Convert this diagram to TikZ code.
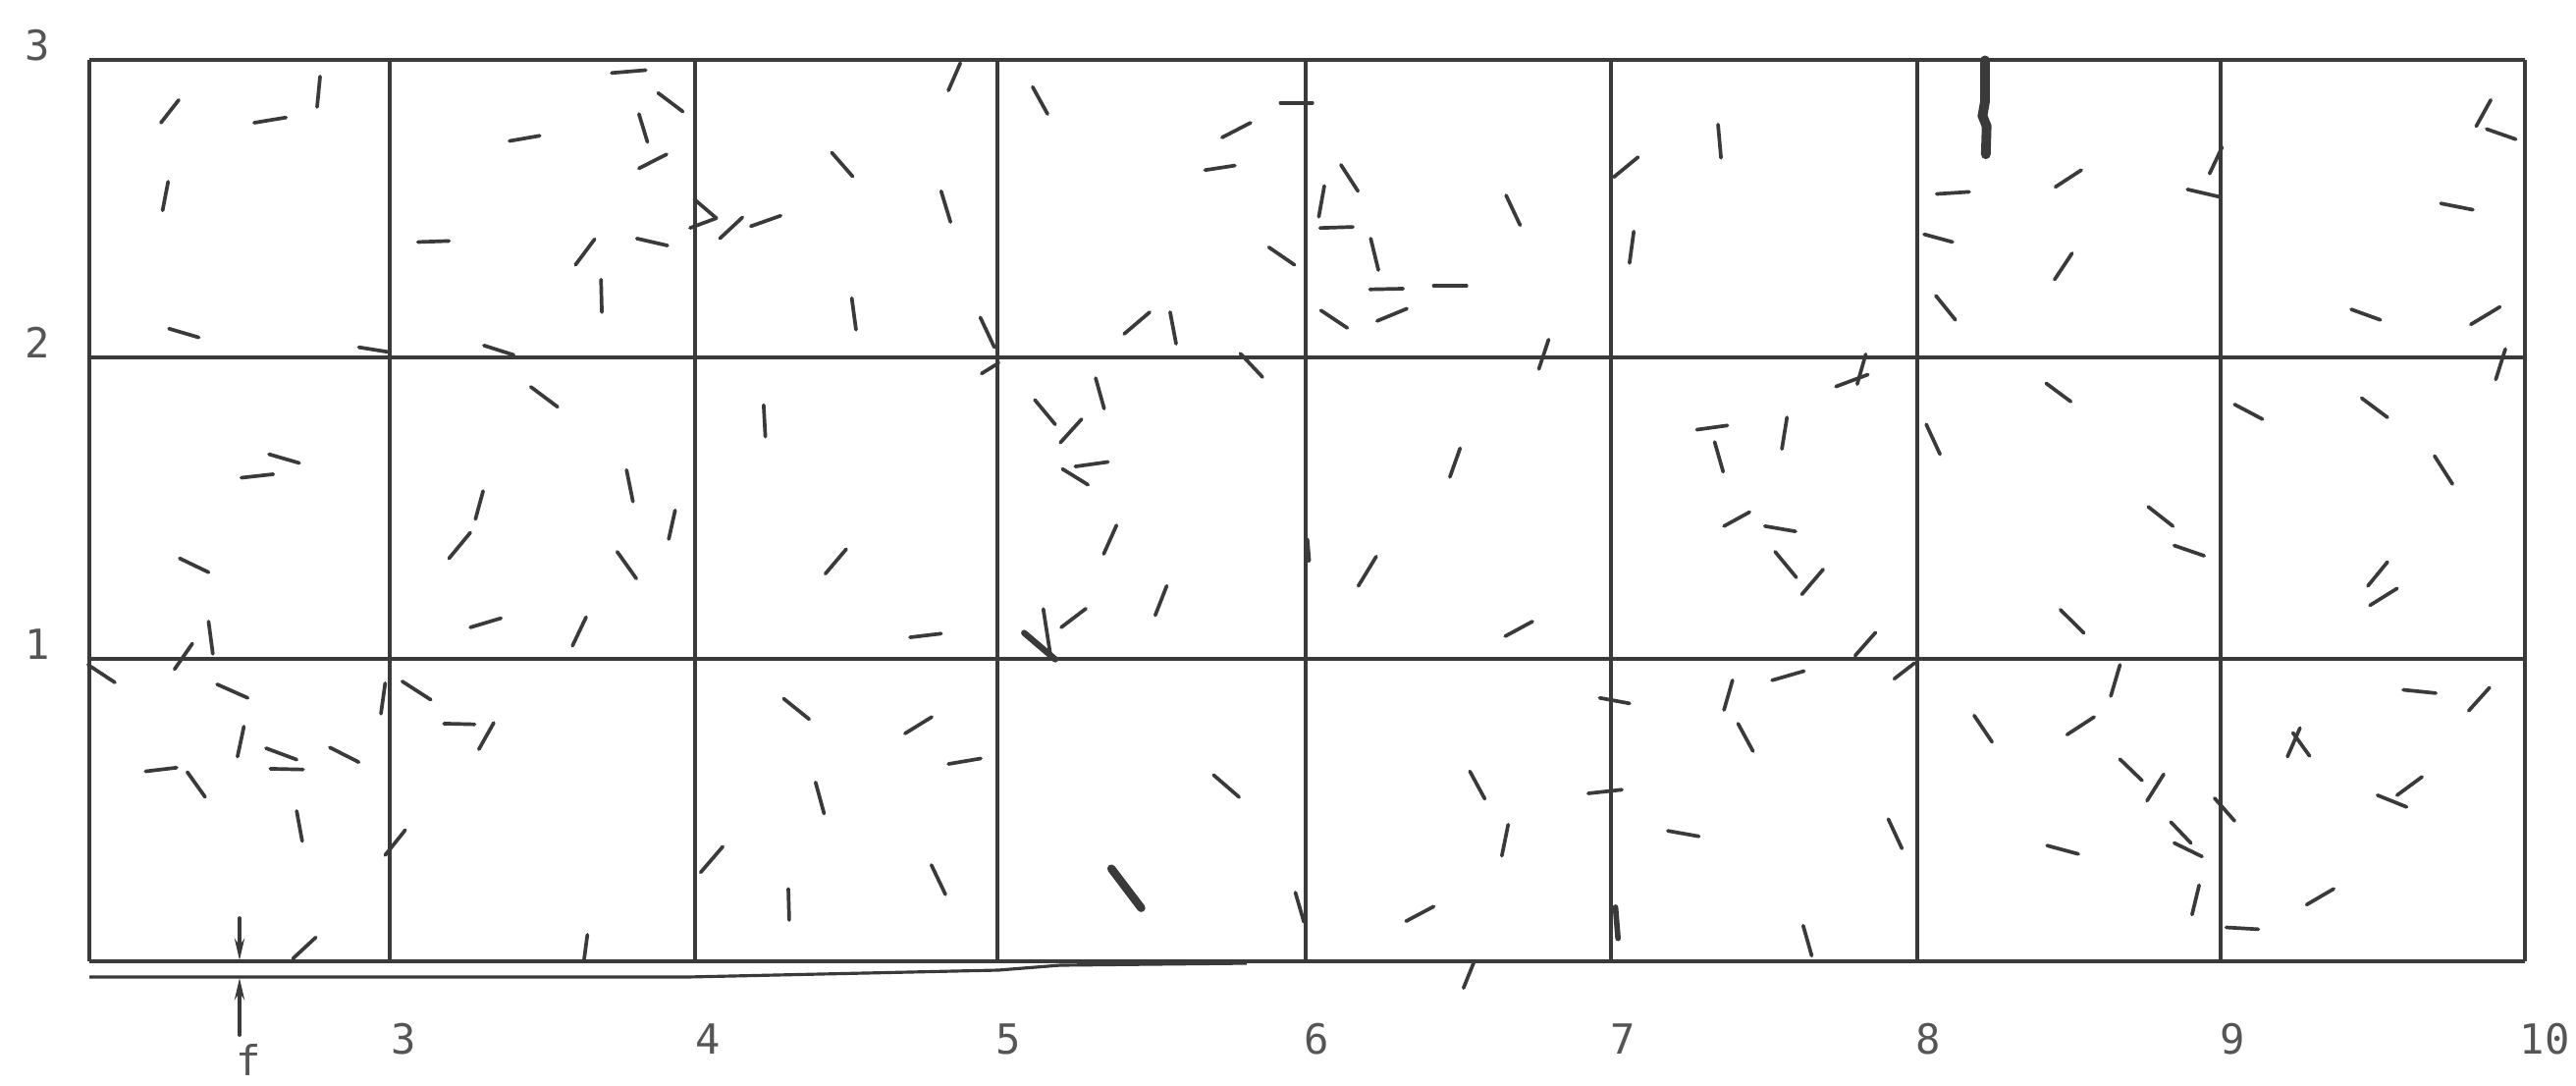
\documentclass[tikz,border=0pt]{standalone}
\usepackage{fontspec}
\newfontfamily\labfont{DejaVu Sans Mono}
\usetikzlibrary{arrows.meta}
\definecolor{ink}{HTML}{3A3A3A}
\definecolor{labc}{HTML}{555555}
\tikzset{
  seg/.style={draw=ink, line width=1.05pt, line cap=round},
  heavy/.style={draw=ink, line width=2.2pt, line cap=round},
  gridln/.style={draw=ink, line width=0.9pt},
  lab/.style={text=labc, font=\labfont\fontsize{12}{14}\selectfont, inner sep=0pt},
  zoomA/.style={x=0.0043365cm, y=-0.0035714cm},
  zoomB/.style={x=0.0042355cm, y=-0.0035714cm},
  zoomC/.style={x=0.0043365cm, y=-0.0037369cm},
  zoomD/.style={x=0.0042355cm, y=-0.0037369cm},
}
\begin{document}
\begin{tikzpicture}[x=0.01cm, y=-0.01cm]
\useasboundingbox (0,0) rectangle (2624,1106);
\fill[white] (0,0) rectangle (2624,1106);
% grid
\foreach \gx in {91,397,708,1016,1330,1641,1953,2262,2572}
  \draw[gridln] (\gx,61) -- (\gx,979);
\foreach \gy in {61,364,671,979}
  \draw[gridln] (91,\gy) -- (2572,\gy);
% lower base line
\draw[gridln] (91,995) -- (700,995) -- (1017,988) -- (1080,983) -- (1270,981);
% f arrows
\coordinate (fa) at (244,935);
\coordinate (fb) at (244,978);
\coordinate (fc) at (244,1054);
\coordinate (fd) at (244,996);
\draw[seg, -{Stealth[length=0.22cm,width=0.1cm]}] (fa) -- (fb);
\draw[seg, -{Stealth[length=0.22cm,width=0.1cm]}] (fc) -- (fd);
% labels
\node[lab, anchor=base west] (l3) at (25,61) {3};
\node[lab, anchor=base west] (l2) at (25,364) {2};
\node[lab, anchor=base west] (l1) at (25,671) {1};
\node[lab, anchor=base] (bf) at (253,1095) {f};
\node[lab, anchor=base west] (b3) at (398,1073) {3};
\node[lab, anchor=base west] (b4) at (708,1073) {4};
\node[lab, anchor=base west] (b5) at (1014,1073) {5};
\node[lab, anchor=base west] (b6) at (1328,1073) {6};
\node[lab, anchor=base west] (b7) at (1640,1073) {7};
\node[lab, anchor=base west] (b8) at (1951,1073) {8};
\node[lab, anchor=base west] (b9) at (2261,1073) {9};
\node[lab, anchor=base west] (b10) at (2566,1073) {10};
% ---- region 1
\begin{scope}[shift={(0,0)}, zoomA]
\foreach \a/\b/\c/\d in {378/350/420/285, 597/350/672/335, 752/218/745/305, 382/600/395/518,
 397/937/467/962, 843/990/910/1003, 632/1295/703/1320, 567/1362/642/1352,
 1437/208/1517/200, 1197/402/1268/387, 982/690/1055/687, 1352/755/1397/682,
 1412/797/1414/890, 1137/985/1207/1012, 1247/1103/1310/1160, 1472/1340/1487/1430,
 1117/1480/1135/1400}
  \draw[seg] (\a,\b) -- (\c,\d);
\end{scope}
% ---- region 2
\begin{scope}[shift={(640,0)}, zoomA]
\foreach \a/\b/\c/\d in {70/265/128/318, 25/325/45/405, 25/480/90/440, 20/680/92/700,
 155/568/207/622, 145/650/207/622, 215/680/268/620, 288/645/358/615, 478/435/527/503,
 752/258/780/180, 735/545/757/633, 525/850/535/940, 827/905/860/990, 830/1065/870/1035,
 950/248/985/325, 1395/392/1462/350, 1355/485/1425/472, 1505/705/1565/755,
 1165/952/1225/890, 1273/890/1287/980, 1438/1008/1490/1075, 318/1155/322/1245,
 955/1140/1003/1210, 1098/1078/1118/1165, 1015/1262/1065/1195, 1050/1330/1127/1317,
 1020/1337/1080/1382, 95/1537/110/1455}
  \draw[seg] (\a,\b) -- (\c,\d);
\end{scope}
% ---- region 3
\begin{scope}[shift={(1300,0)}, zoomA]
\foreach \a/\b/\c/\d in {10/293/85/293, 152/470/192/545, 100/618/113/530, 103/650/180/647,
 222/680/240/770, 220/825/298/823, 370/815/447/815, 105/885/167/935, 237/915/307/880,
 540/557/573/642, 617/1052/640/968, 793/505/850/448, 1038/355/1045/450, 830/750/840/660,
 1365/1095/1385/1010, 1315/1102/1390/1068, 988/1225/1060/1213, 1188/1280/1200/1190,
 1030/1260/1050/1345, 1052/1500/1112/1460, 1148/1500/1220/1515, 408/1360/432/1278}
  \draw[seg] (\a,\b) -- (\c,\d);
\end{scope}
% ---- region 4
\begin{scope}[shift={(1960,0)}, zoomB]
\draw[heavy, line width=2.8pt] (146,172) -- (146,290) -- (140,330) -- (150,360) -- (148,440);
\foreach \a/\b/\c/\d in {30/553/108/547, 0/668/68/690, 315/533/377/485, 313/797/355/722,
 28/843/75/912, 685/495/715/420, 632/540/712/562, 1325/360/1360/285, 1350/368/1420/397,
 1240/580/1317/598, 1025/882/1095/912, 1312/925/1382/875, 1372/1082/1395/995,
 293/1093/352/1145, 5/1210/38/1295, 745/1153/812/1195, 1050/1135/1112/1190,
 1225/1300/1268/1380, 538/1445/597/1500}
  \draw[seg] (\a,\b) -- (\c,\d);
\end{scope}
% ---- region 5
\begin{scope}[shift={(0,520)}, zoomC]
\foreach \a/\b/\c/\d in {1055/130/1105/60, 422/130/490/168, 1450/112/1495/185,
 1105/318/1177/293, 1345/368/1377/290, 490/302/500/390, 410/432/452/362, 207/420/270/468,
 510/473/582/510, 895/553/905/470, 945/465/1012/515, 1043/580/1115/582, 1125/650/1160/578,
 558/670/573/588, 625/647/697/678, 635/703/712/705, 775/645/843/685, 342/710/415/700,
 440/712/482/780, 697/818/710/900, 905/938/952/870, 688/1220/742/1162, 1372/1225/1380/1155}
  \draw[seg] (\a,\b) -- (\c,\d);
\end{scope}
% ---- region 6
\begin{scope}[shift={(640,520)}, zoomC]
\foreach \a/\b/\c/\d in {463/172/512/105, 662/345/735/335, 1117/118/1147/40, 1238/285/1265/205,
 975/268/992/395, 1017/318/1075/267, 365/512/425/568, 650/607/713/562, 752/690/828/675,
 440/740/460/825, 170/985/222/915, 376/1030/378/1115, 712/965/745/1045, 1375/720/1435/780}
  \draw[seg] (\a,\b) -- (\c,\d);
\draw[heavy, line width=1.8pt] (930,333) -- (1003,405);
\draw[heavy, line width=2.4pt] (1135,975) -- (1205,1082);
\end{scope}
% ---- region 7
\begin{scope}[shift={(1300,520)}, zoomC]
\foreach \a/\b/\c/\d in {193/205/235/125, 538/342/602/302, 1172/112/1222/182, 1235/228/1285/160,
 1360/395/1408/332, 1452/458/1500/415, 1165/462/1240/437, 1052/543/1072/462, 1085/580/1120/655,
 760/510/830/525, 455/710/490/785, 530/940/545/855, 733/770/812/760, 920/872/993/887,
 1438/840/1470/920, 305/1118/370/1078, 45/1040/65/1120, 1238/1130/1258/1212, 440/1300/465/1228}
  \draw[seg] (\a,\b) -- (\c,\d);
\draw[heavy, line width=1.6pt] (797,1080) -- (803,1165);
\draw[heavy, line width=1.4pt] (72,80) -- (76,135);
\end{scope}
% ---- region 8
\begin{scope}[shift={(1960,520)}, zoomD]
\foreach \a/\b/\c/\d in {600/95/672/123, 327/270/383/333, 1065/205/1112/140, 1070/258/1135/212,
 448/505/470/420, 120/558/163/630, 343/610/408/562, 470/677/523/735, 535/790/575/718,
 697/783/745/845, 592/848/640/905, 600/905/667/942, 295/912/370/935, 643/1100/660/1020,
 725/1135/802/1140, 918/1073/983/1030, 872/670/902/592, 885/605/925/668, 1150/488/1228/497,
 1307/545/1357/482, 1135/775/1195/725, 1088/775/1158/807}
  \draw[seg] (\a,\b) -- (\c,\d);
\end{scope}
\end{tikzpicture}
\end{document}
